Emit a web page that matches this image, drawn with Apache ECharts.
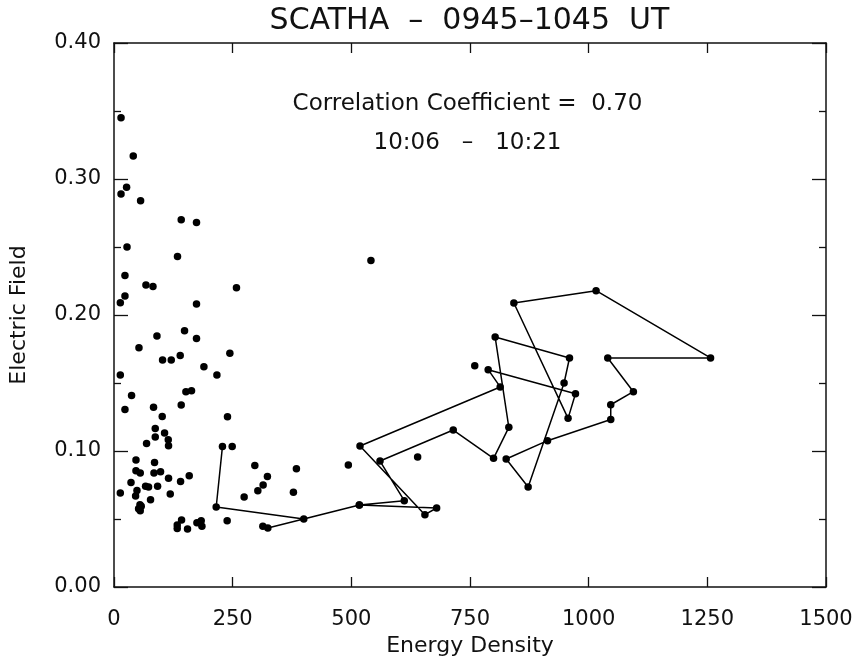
<!DOCTYPE html>
<html>
<head>
<meta charset="utf-8">
<script src="https://cdn.jsdelivr.net/npm/echarts@6/dist/echarts.min.js"></script>
<style>
  html, body { margin: 0; padding: 0; background: #fff; }
  #chart { width: 859px; height: 662px; }
</style>
</head>
<body>
<div id="chart"></div>
<script>
// ---- Data ----
const titleText = 'SCATHA  –  0945–1045  UT';
const corrText = 'Correlation Coefficient =  0.70';
const timeText = '10:06   –   10:21';
const xAxisName = 'Energy Density';
const yAxisName = 'Electric Field';
const xTickValues = [0, 250, 500, 750, 1000, 1250, 1500];
const yTickValues = [0.00, 0.10, 0.20, 0.30, 0.40];

// Scattered points (energy density, electric field)
const scatterX = [14.8, 40.6, 14.8, 26.5, 56, 141.6, 173.8, 27.4, 133.8, 23.1,
  67.3, 82.1, 258, 23.1, 13.3, 173.8, 148.6, 90.5, 173.8, 52.6,
  102.3, 120.6, 139.5, 244.1, 189.4, 216.8, 13.3, 37.0, 151.5, 163.3,
  23.1, 83.3, 141.6, 101.6, 239.1, 86.9, 106.5, 86.9, 114.3, 114.9,
  68.6, 249, 46.3, 85.4, 46.3, 55.3, 84.2, 98.1, 35.8, 114.9,
  140.2, 158.5, 66.5, 72.8, 91.8, 13.3, 48.4, 45.5, 118.5, 77.0,
  54.7, 57.4, 51.8, 55.3, 238.4, 296.7, 323.2, 314.2, 303, 274.2,
  384.3, 378, 142.3, 133.2, 133.2, 154.9, 183.7, 185.2, 174.7, 493.7,
  639.7, 541.3, 760];
const scatterY = [0.345, 0.317, 0.289, 0.294, 0.284, 0.270, 0.268, 0.250, 0.243, 0.229,
  0.222, 0.221, 0.220, 0.214, 0.209, 0.208, 0.1885, 0.1846, 0.1828, 0.176,
  0.1669, 0.1669, 0.1703, 0.1718, 0.162, 0.1559, 0.1559, 0.1409, 0.1436, 0.1443,
  0.1306, 0.1321, 0.1338, 0.1254, 0.1252, 0.1166, 0.1132, 0.1103, 0.1083, 0.1039,
  0.1056, 0.1034, 0.0934, 0.0916, 0.0855, 0.0838, 0.0838, 0.0848, 0.0769, 0.0799,
  0.0776, 0.0818, 0.074, 0.0735, 0.074, 0.0691, 0.071, 0.0669, 0.0684, 0.0642,
  0.0605, 0.0593, 0.0576, 0.0561, 0.0488, 0.0894, 0.0813, 0.075, 0.0708, 0.0662,
  0.087, 0.0696, 0.0493, 0.0456, 0.0431, 0.0426, 0.0488, 0.0446, 0.0473, 0.0897,
  0.0956, 0.240, 0.1627];

// Connected trajectory 10:06 - 10:21
const pathX = [228.5, 215.3, 399.8, 516.9, 679.7, 655, 518.3, 813.6, 788.3, 972.2,
  956.6, 842.4, 1015.6, 1256.8, 1040.2, 1094.2, 1046.5, 1046.5, 913.3, 826.2,
  872.5, 948.2, 959.6, 803, 831.8, 799.6, 714.7, 560.4, 611.5, 516.9,
  324.1, 313.6];
const pathY = [0.1034, 0.0588, 0.0500, 0.0603, 0.0581, 0.0532, 0.1037, 0.1471, 0.1598, 0.1421,
  0.124, 0.2088, 0.2179, 0.1684, 0.1684, 0.1436, 0.134, 0.1232, 0.1076, 0.0941,
  0.0735, 0.150, 0.1684, 0.1838, 0.1174, 0.0946, 0.1154, 0.0926, 0.0635, 0.0603,
  0.0434, 0.0446];

// ---- Chart ----
const FONT = "'DejaVu Sans', sans-serif";
const INK = '#111';
const chart = echarts.init(document.getElementById('chart'), null, { renderer: 'canvas' });

const scatterData = scatterX.map((x, i) => [x, scatterY[i]]);
const pathData = pathX.map((x, i) => [x, pathY[i]]);

const grid = { left: 113, right: 33, top: 43, bottom: 75 };
const plotCenterX = grid.left + (859 - grid.left - grid.right) / 2;

function xAxisCfg(pos, showLabels) {
  return {
    type: 'value', position: pos, min: xTickValues[0], max: xTickValues[xTickValues.length - 1],
    interval: xTickValues[1] - xTickValues[0],
    name: showLabels ? xAxisName : '', nameLocation: 'middle', nameGap: 48,
    nameTextStyle: { fontFamily: FONT, fontSize: 22, color: INK },
    axisLine: { show: true, onZero: false, lineStyle: { color: INK, width: 1.5 } },
    axisTick: { show: true, inside: true, length: 10, lineStyle: { color: INK, width: 1.3 } },
    axisLabel: { show: showLabels, margin: 22, fontFamily: FONT, fontSize: 21, color: INK,
      formatter: v => String(v) },
    splitLine: { show: false }
  };
}
function yAxisCfg(pos, showLabels) {
  return {
    type: 'value', position: pos, min: yTickValues[0], max: yTickValues[yTickValues.length - 1],
    interval: yTickValues[1] - yTickValues[0],
    name: showLabels ? yAxisName : '', nameLocation: 'middle', nameGap: 84,
    nameTextStyle: { fontFamily: FONT, fontSize: 22, color: INK },
    axisLine: { show: true, onZero: false, lineStyle: { color: INK, width: 1.5 } },
    axisTick: { show: true, inside: true, length: 14, lineStyle: { color: INK, width: 1.3 } },
    minorTick: { show: true, splitNumber: 2, length: 7, lineStyle: { color: INK, width: 1.3 } },
    axisLabel: { show: showLabels, margin: 13, fontFamily: FONT, fontSize: 21, color: INK,
      formatter: v => v.toFixed(2) },
    splitLine: { show: false }, minorSplitLine: { show: false }
  };
}

chart.setOption({
  animation: false,
  backgroundColor: '#fff',
  grid: grid,
  xAxis: [xAxisCfg('bottom', true), xAxisCfg('top', false)],
  yAxis: [yAxisCfg('left', true), yAxisCfg('right', false)],
  graphic: [
    { type: 'text', x: plotCenterX, y: 21, style: { text: titleText, fontFamily: FONT, fontSize: 30,
      fill: INK, textAlign: 'center', textVerticalAlign: 'middle' } },
    { type: 'text', x: plotCenterX - 2, y: 104, style: { text: corrText, fontFamily: FONT, fontSize: 23,
      fill: INK, textAlign: 'center', textVerticalAlign: 'middle' } },
    { type: 'text', x: plotCenterX - 2, y: 143, style: { text: timeText, fontFamily: FONT, fontSize: 23,
      fill: INK, textAlign: 'center', textVerticalAlign: 'middle' } }
  ],
  series: [
    { type: 'scatter', xAxisIndex: 0, yAxisIndex: 0, data: scatterData, symbol: 'circle', symbolSize: 7.5,
      itemStyle: { color: '#000', opacity: 1 }, silent: true },
    { type: 'line', xAxisIndex: 0, yAxisIndex: 0, data: pathData, symbol: 'circle', symbolSize: 7.5,
      showSymbol: true, showAllSymbol: true, lineStyle: { color: '#000', width: 1.5 },
      itemStyle: { color: '#000', opacity: 1 }, silent: true }
  ]
});
</script>
</body>
</html>
